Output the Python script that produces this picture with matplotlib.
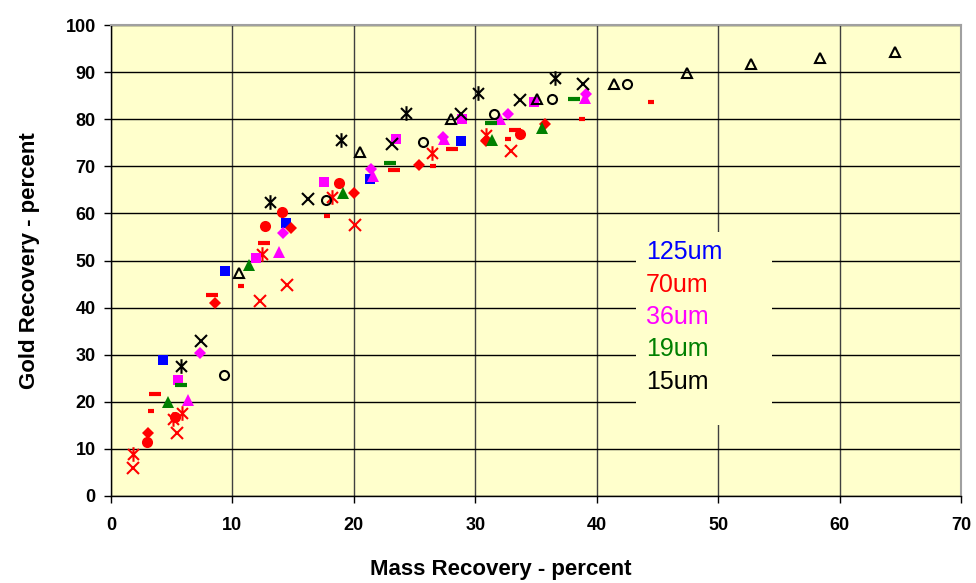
import numpy as np
import matplotlib.pyplot as plt
from matplotlib.path import Path
from matplotlib.patches import Rectangle
from matplotlib import font_manager

# ---- data (mass recovery %, gold recovery %) ----
# 125um
blue_sq_x = [4.3, 9.4, 14.4, 21.3, 28.8]
blue_sq_y = [28.8, 47.8, 57.9, 67.3, 75.4]

# 70um
red_circ_x = [3.0, 5.3, 12.7, 14.1, 18.8, 33.7]
red_circ_y = [11.5, 16.7, 57.4, 60.2, 66.4, 76.9]
red_diam_x = [3.05, 8.6, 14.8, 20.0, 25.4, 30.9, 35.7]
red_diam_y = [13.3, 40.9, 56.8, 64.4, 70.3, 75.4, 79.0]
red_ldash_x = [3.6, 8.3, 12.6, 23.3, 28.1, 33.3]
red_ldash_y = [21.6, 42.6, 53.7, 69.2, 73.6, 77.7]
red_sdash_x = [3.3, 10.7, 17.8, 26.5, 32.7, 38.8, 44.5]
red_sdash_y = [18.1, 44.6, 59.4, 70.1, 75.9, 80.0, 83.6]
red_x_x = [1.85, 5.4, 12.3, 14.5, 20.1, 32.9]
red_x_y = [5.9, 13.4, 41.3, 44.7, 57.5, 73.3]
red_star_x = [1.85, 5.1, 5.85, 12.4, 18.2, 26.4, 30.9]
red_star_y = [8.9, 16.3, 17.6, 51.4, 63.4, 72.8, 76.6]

# 36um
mag_sq_x = [5.5, 11.9, 17.5, 23.5, 28.9, 34.8]
mag_sq_y = [24.6, 50.5, 66.7, 75.7, 80.0, 83.6]
mag_tri_x = [6.3, 13.8, 21.6, 27.4, 32.0, 39.0]
mag_tri_y = [20.4, 51.7, 67.9, 75.7, 80.0, 84.5]
mag_diam_x = [7.3, 14.2, 21.4, 27.3, 32.7, 39.1]
mag_diam_y = [30.3, 55.9, 69.4, 76.3, 81.1, 85.3]

# 19um
grn_tri_x = [4.7, 11.4, 19.1, 31.4, 35.5]
grn_tri_y = [20.0, 49.0, 64.3, 75.6, 78.1]
grn_dash_x = [5.8, 23.0, 31.3, 38.1]
grn_dash_y = [23.6, 70.8, 79.1, 84.2]

# 15um
blk_tri_x = [10.5, 20.5, 28.0, 35.1, 41.4, 47.4, 52.7, 58.4, 64.6]
blk_tri_y = [47.4, 73.0, 80.0, 84.2, 87.5, 89.9, 91.7, 92.9, 94.3]
blk_circ_x = [9.3, 17.7, 25.7, 31.5, 36.3, 42.5]
blk_circ_y = [25.7, 62.8, 75.1, 81.0, 84.2, 87.4]
blk_x_x = [7.4, 16.25, 23.1, 28.8, 33.7, 38.9]
blk_x_y = [33.0, 63.1, 74.7, 81.2, 84.1, 87.5]
blk_star_x = [5.8, 13.1, 18.9, 24.3, 30.2, 36.6]
blk_star_y = [27.6, 62.5, 75.5, 81.4, 85.5, 88.7]

labels = ['125um', '70um', '36um', '19um', '15um']
label_colors = ['#0000FF', '#FF0000', '#FF00FF', '#008000', '#000000']

xticks = np.arange(0, 71, 10)
yticks = np.arange(0, 101, 10)

# excel style star: x with a vertical bar
star = Path([(0, -1), (0, 1), (-0.75, -0.75), (0.75, 0.75), (-0.75, 0.75), (0.75, -0.75)],
            [Path.MOVETO, Path.LINETO, Path.MOVETO, Path.LINETO, Path.MOVETO, Path.LINETO])

names = [f.name for f in font_manager.fontManager.ttflist]
tick_font = 'Liberation Sans Narrow' if 'Liberation Sans Narrow' in names else 'Liberation Sans'

fig = plt.figure(figsize=(9.76, 5.83), dpi=100)
ax = fig.add_axes([111 / 976, 87 / 583, 850 / 976, 471 / 583])
ax.set_facecolor('#FFFFCC')

def filled(x, y, m, c, ms):
    ax.plot(x, y, linestyle='none', marker=m, color=c, markersize=ms,
            markeredgewidth=0, zorder=3)

def hollow(x, y, m, c, ms, mew=1.5):
    ax.plot(x, y, linestyle='none', marker=m, markerfacecolor='none',
            markeredgecolor=c, markersize=ms, markeredgewidth=mew, zorder=3)

def dash(x, y, c, ms):
    ax.plot(x, y, linestyle='none', marker='_', color=c, markersize=ms,
            markeredgewidth=3, zorder=3)

filled(blue_sq_x, blue_sq_y, 's', '#0000FF', 7.5)

filled(red_circ_x, red_circ_y, 'o', '#FF0000', 8)
filled(red_diam_x, red_diam_y, 'D', '#FF0000', 6.5)
dash(red_ldash_x, red_ldash_y, '#FF0000', 8.5)
dash(red_sdash_x, red_sdash_y, '#FF0000', 5)
hollow(red_x_x, red_x_y, 'x', '#FF0000', 8.5)
hollow(red_star_x, red_star_y, star, '#FF0000', 10.5)

filled(mag_sq_x, mag_sq_y, 's', '#FF00FF', 7.5)
filled(mag_tri_x, mag_tri_y, '^', '#FF00FF', 8.5)
filled(mag_diam_x, mag_diam_y, 'D', '#FF00FF', 6.5)

filled(grn_tri_x, grn_tri_y, '^', '#008000', 8.5)
dash(grn_dash_x, grn_dash_y, '#008000', 8.5)

hollow(blk_tri_x, blk_tri_y, '^', '#000000', 7)
hollow(blk_circ_x, blk_circ_y, 'o', '#000000', 6.5)
hollow(blk_x_x, blk_x_y, 'x', '#000000', 8.5)
hollow(blk_star_x, blk_star_y, star, '#000000', 10.5)

ax.set_xlim(0, 70)
ax.set_ylim(0, 100)
ax.set_xticks(xticks)
ax.set_yticks(yticks)
ax.grid(True, color='#000000', linewidth=1.0, zorder=0)
for gl in ax.get_xgridlines():
    gl.set_color('#404040')
ax.set_axisbelow(True)

for s in ['top', 'right']:
    ax.spines[s].set_color('#A0A0A0')
    ax.spines[s].set_linewidth(1.5)
for s in ['left', 'bottom']:
    ax.spines[s].set_color('#000000')
    ax.spines[s].set_linewidth(1.0)

ax.tick_params(direction='out', length=5, width=1)
ax.tick_params(axis='x', pad=10)
ax.tick_params(axis='y', pad=6)
for lab in ax.get_xticklabels() + ax.get_yticklabels():
    lab.set_fontfamily(tick_font)
    lab.set_fontweight('bold')
    lab.set_fontsize(13)

fig.text(501 / 976, 1 - 570 / 583, 'Mass Recovery - percent', fontfamily=tick_font,
         fontweight='bold', fontsize=16, ha='center', va='center')
fig.text(30 / 976, 1 - 261 / 583, 'Gold Recovery - percent', fontfamily=tick_font,
         fontweight='bold', fontsize=16, ha='center', va='center', rotation=90)

# text legend in a plain box that hides the grid
box = Rectangle((636, 583 - 425), 136, 193, transform=None, facecolor='#FFFFCC',
                edgecolor='none', zorder=2)
ax.add_artist(box)
for i, (lab, col) in enumerate(zip(labels, label_colors)):
    ax.text(646, 583 - (252 + i * 32.5), lab, transform=None, color=col,
            fontsize=18, fontfamily='Liberation Sans', va='center', ha='left', zorder=4)

fig.savefig('out.png', dpi=100)
